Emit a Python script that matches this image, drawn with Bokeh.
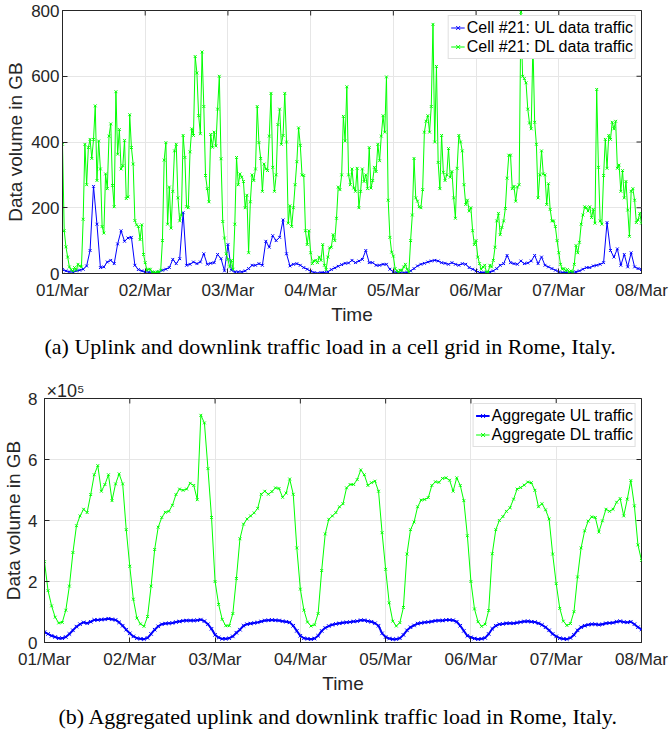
import numpy as np
from bokeh.plotting import figure
from bokeh.models import Range1d, FixedTicker, Legend, LegendItem, Title
from bokeh.layouts import column, row
from bokeh.embed import file_html
from bokeh.resources import INLINE

# ---------------- data ----------------
tick_labels = ["01/Mar", "02/Mar", "03/Mar", "04/Mar", "05/Mar", "06/Mar", "07/Mar", "08/Mar"]

# Cell #21 uplink, hourly (GB)
cell_ul = [
    12, 8, 5, 5, 8, 10, 13, 23, 70, 265, 150, 18, 20, 35, 40, 30, 90, 130, 98, 108, 110, 25, 12, 8,
    5, 4, 3, 3, 5, 10, 13, 18, 43, 30, 45, 185, 25, 28, 35, 30, 35, 60, 28, 31, 33, 58, 45, 8,
    88, 10, 5, 5, 5, 8, 15, 25, 25, 30, 25, 98, 80, 115, 100, 110, 163, 60, 23, 28, 30, 25, 18, 13,
    7, 3, 1, 3, 3, 5, 12, 17, 22, 27, 31, 32, 40, 33, 38, 43, 70, 33, 33, 25, 25, 28, 28, 13,
    5, 3, 2, 2, 3, 8, 15, 23, 28, 31, 35, 38, 40, 38, 33, 31, 28, 33, 28, 25, 30, 28, 18, 13,
    8, 3, 3, 3, 5, 8, 15, 25, 30, 55, 33, 30, 28, 38, 30, 32, 38, 55, 30, 50, 25, 20, 15, 10,
    5, 3, 3, 3, 3, 5, 8, 13, 18, 18, 23, 25, 28, 33, 155, 70, 50, 75, 25, 58, 20, 63, 20, 15, 12,
]

# Cell #21 downlink, half-hourly (GB)
cell_dl = [
    393, 130, 81, 50, 20, 12, 8, 18, 11, 28, 23, 20, 165, 393, 270, 383, 408, 350, 408, 510, 283, 403, 318, 143,
    123, 303, 258, 418, 455, 268, 203, 553, 363, 438, 318, 328, 405, 228, 233, 483, 383, 333, 161, 148, 143, 103, 148, 58,
    33, 10, 13, 13, 5, 3, 3, 5, 5, 10, 100, 345, 398, 150, 263, 138, 250, 373, 393, 230, 160, 178, 420, 353,
    203, 200, 370, 440, 420, 660, 610, 480, 425, 674, 508, 298, 258, 218, 423, 384, 430, 388, 500, 600, 349, 158, 108, 60,
    43, 20, 40, 13, 150, 353, 270, 303, 293, 280, 200, 238, 63, 218, 300, 283, 318, 508, 398, 350, 250, 333, 318, 313,
    418, 548, 323, 250, 300, 453, 500, 393, 420, 548, 400, 153, 206, 143, 200, 270, 340, 443, 390, 300, 298, 130, 88, 130,
    63, 30, 38, 40, 33, 50, 40, 88, 25, 12, 50, 78, 80, 118, 100, 168, 263, 255, 300, 478, 403, 568, 300, 270,
    318, 260, 250, 320, 200, 250, 318, 280, 300, 258, 383, 260, 283, 323, 310, 393, 343, 418, 480, 430, 598, 223, 110, 65,
    53, 15, 8, 5, 10, 10, 20, 28, 13, 3, 100, 178, 350, 230, 220, 203, 200, 255, 430, 463, 480, 430, 508, 758,
    400, 630, 338, 258, 420, 308, 283, 300, 380, 293, 310, 230, 168, 320, 420, 400, 373, 270, 210, 223, 190, 200, 130, 88,
    100, 50, 30, 13, 20, 25, 5, 3, 25, 20, 40, 80, 160, 183, 118, 140, 160, 198, 290, 360, 360, 258, 265, 220,
    263, 270, 795, 600, 593, 580, 500, 458, 440, 700, 460, 393, 230, 300, 373, 303, 300, 210, 273, 195, 160, 160, 143, 100,
    63, 28, 13, 15, 8, 12, 5, 8, 5, 28, 85, 63, 95, 150, 178, 203, 200, 190, 203, 170, 195, 153, 560, 323,
    160, 150, 298, 408, 320, 420, 408, 460, 440, 463, 320, 330, 250, 313, 230, 280, 193, 113, 250, 258, 223, 155, 163, 183,
    153,
]

# Aggregate uplink, hourly (x 1e5 GB)
agg_ul = [
    0.34, 0.28, 0.22, 0.18, 0.14, 0.14, 0.18, 0.28, 0.40, 0.52, 0.60, 0.66, 0.63, 0.68, 0.74, 0.74, 0.75, 0.76, 0.78, 0.76, 0.74, 0.66, 0.55, 0.42,
    0.30, 0.20, 0.14, 0.12, 0.11, 0.15, 0.28, 0.42, 0.53, 0.60, 0.62, 0.63, 0.64, 0.67, 0.69, 0.71, 0.72, 0.72, 0.72, 0.73, 0.75, 0.70, 0.60, 0.45,
    0.25, 0.16, 0.12, 0.12, 0.14, 0.20, 0.32, 0.42, 0.55, 0.60, 0.62, 0.64, 0.66, 0.69, 0.72, 0.73, 0.74, 0.73, 0.72, 0.70, 0.68, 0.66, 0.55, 0.38,
    0.22, 0.14, 0.12, 0.11, 0.13, 0.22, 0.38, 0.48, 0.54, 0.58, 0.61, 0.63, 0.65, 0.66, 0.67, 0.69, 0.70, 0.73, 0.73, 0.70, 0.68, 0.63, 0.55, 0.30,
    0.18, 0.13, 0.11, 0.11, 0.14, 0.25, 0.40, 0.50, 0.56, 0.62, 0.64, 0.66, 0.67, 0.69, 0.71, 0.72, 0.72, 0.74, 0.74, 0.73, 0.68, 0.55, 0.38, 0.22,
    0.17, 0.13, 0.11, 0.12, 0.15, 0.28, 0.45, 0.55, 0.60, 0.61, 0.63, 0.63, 0.63, 0.65, 0.67, 0.69, 0.70, 0.68, 0.67, 0.63, 0.58, 0.50, 0.40, 0.28,
    0.20, 0.14, 0.12, 0.11, 0.15, 0.25, 0.40, 0.50, 0.55, 0.58, 0.60, 0.60, 0.58, 0.60, 0.63, 0.64, 0.65, 0.68, 0.70, 0.67, 0.66, 0.68, 0.60, 0.50, 0.43,
]

# Aggregate downlink, hourly (x 1e5 GB)
agg_dl = [
    2.65, 1.70, 1.20, 0.83, 0.64, 0.66, 1.06, 1.85, 2.95, 3.83, 4.15, 4.37, 4.26, 4.85, 5.50, 5.80, 4.96, 5.18, 5.50, 4.65, 5.20, 5.53, 5.20, 3.70,
    2.50, 1.42, 0.80, 0.61, 0.53, 0.85, 1.85, 3.05, 3.78, 4.10, 4.27, 4.30, 4.50, 4.85, 5.03, 4.99, 5.03, 5.22, 5.15, 4.68, 7.45, 7.20, 5.70, 4.10,
    2.00, 1.25, 0.76, 0.55, 0.55, 0.95, 2.10, 3.40, 3.88, 4.05, 4.15, 4.25, 4.40, 4.86, 4.96, 4.86, 4.95, 5.07, 5.05, 4.76, 4.90, 5.36, 4.86, 3.10,
    1.75, 1.06, 0.67, 0.54, 0.58, 0.95, 2.36, 3.56, 4.04, 4.15, 4.26, 4.45, 4.55, 5.07, 5.18, 5.18, 5.34, 5.66, 5.50, 5.15, 5.24, 5.29, 4.96, 3.60,
    2.40, 1.30, 0.70, 0.54, 0.65, 1.15, 2.90, 3.70, 3.95, 4.45, 4.67, 4.69, 4.75, 5.15, 5.27, 5.25, 5.38, 5.40, 5.32, 4.96, 5.40, 5.15, 4.65, 3.50,
    2.00, 1.10, 0.68, 0.53, 0.60, 1.05, 2.91, 3.70, 4.00, 4.13, 4.30, 4.42, 4.70, 5.03, 5.08, 5.16, 5.26, 5.24, 4.99, 4.45, 4.55, 4.35, 4.05, 2.90,
    1.93, 1.12, 0.70, 0.56, 0.62, 1.01, 2.15, 3.10, 3.66, 3.98, 4.12, 4.10, 3.62, 3.99, 4.37, 4.30, 4.37, 4.60, 4.72, 4.15, 4.70, 5.31, 4.48, 3.20, 2.69,
]

cell_ticks = [0, 200, 400, 600, 800]
agg_ticks = [0, 2, 4, 6, 8]

hours = np.arange(len(cell_ul))
half_hours = np.arange(len(cell_dl)) * 0.5
day_ticks = [24 * i for i in range(len(tick_labels))]
x_end = day_ticks[-1]

BLUE = "#0000ff"
GREEN = "#00ff00"
INK = "#262626"
SANS = "Liberation Sans"
SERIF = "Liberation Serif"


def make_fig(height, ymax, yticks, top, bottom, left, ylab_standoff, ytick_standoff):
    p = figure(width=669, height=height, x_range=Range1d(0, x_end), y_range=Range1d(0, ymax),
               output_backend="svg", toolbar_location=None,
               min_border_top=top, min_border_bottom=bottom, min_border_left=left,
               min_border_right=28, background_fill_color="white",
               border_fill_color="white")
    p.outline_line_color = INK
    p.outline_line_width = 1
    xa = p.xaxis[0]
    ya = p.yaxis[0]
    xa.ticker = FixedTicker(ticks=day_ticks)
    xa.major_label_overrides = {t: lab for t, lab in zip(day_ticks, tick_labels)}
    ya.ticker = FixedTicker(ticks=yticks)
    for ax in (xa, ya):
        ax.axis_line_color = INK
        ax.major_tick_line_color = INK
        ax.major_tick_in = 5
        ax.major_tick_out = 0
        ax.minor_tick_line_color = None
        ax.major_label_text_font = SANS
        ax.major_label_text_font_size = "17px"
        ax.major_label_text_color = INK
        ax.axis_label_text_font = SANS
        ax.axis_label_text_font_size = "19px"
        ax.axis_label_text_font_style = "normal"
        ax.axis_label_text_color = INK
    xa.axis_label = "Time"
    xa.major_label_standoff = 7
    xa.axis_label_standoff = 1
    ya.axis_label = "Data volume in GB"
    ya.major_label_standoff = ytick_standoff
    ya.axis_label_standoff = ylab_standoff
    # inward ticks on the top and right edges of the box (clipped to the frame)
    p.scatter(day_ticks, [ymax] * len(day_ticks), marker="dash", angle=np.pi / 2, size=10,
              line_color=INK, line_width=1)
    p.scatter([x_end] * len(yticks), yticks, marker="dash", size=10,
              line_color=INK, line_width=1)
    p.xgrid.ticker = FixedTicker(ticks=day_ticks)
    p.ygrid.ticker = FixedTicker(ticks=yticks)
    p.xgrid.grid_line_color = "#e6e6e6"
    p.ygrid.grid_line_color = "#e6e6e6"
    return p


def add_series(p, x, y, color, lw=1, size=4):
    ln = p.line(x, y, line_color=color, line_width=lw)
    sc = p.scatter(x, y, marker="x", size=size, line_color=color, line_width=1)
    return [ln, sc]


def add_legend(p, items):
    lg = Legend(items=[LegendItem(label=lab, renderers=r) for lab, r in items],
                location="top_right", margin=5, padding=2, spacing=0,
                glyph_width=14, glyph_height=19, label_height=19, label_standoff=2,
                label_text_font=SANS, label_text_font_size="16px",
                label_text_color="black", border_line_color="#c0c0c0",
                background_fill_color="white", background_fill_alpha=1.0)
    p.add_layout(lg)


def add_caption(p, text, offset, standoff):
    t = Title(text=text, align="left", text_font=SERIF, text_font_size="22px",
              text_font_style="normal", text_color="black", standoff=standoff, offset=offset)
    p.add_layout(t, "below")


# ---------------- figure (a) ----------------
p1 = make_fig(366, 800, cell_ticks, top=10, bottom=93, left=62, ylab_standoff=2, ytick_standoff=3)
r_ul = add_series(p1, hours, cell_ul, BLUE)
r_dl = add_series(p1, half_hours, cell_dl, GREEN)
add_legend(p1, [("Cell #21: UL data traffic", r_ul), ("Cell #21: DL data traffic", r_dl)])
add_caption(p1, "(a) Uplink and downlink traffic load in a cell grid in Rome, Italy.", -18, 9)

# ---------------- figure (b) ----------------
p2 = make_fig(368, 8, agg_ticks, top=32, bottom=89, left=42, ylab_standoff=1, ytick_standoff=7)
r_aul = add_series(p2, hours, agg_ul, BLUE, lw=2, size=5)
r_adl = add_series(p2, hours, agg_dl, GREEN)
add_legend(p2, [("Aggregate UL traffic", r_aul), ("Aggregate DL traffic", r_adl)])
add_caption(p2, "(b) Aggregated uplink and downlink traffic load in Rome, Italy.", 14, 11)
p2.add_layout(Title(text="\u00d710\u2075", align="left", text_font=SANS, text_font_size="18px",
                    text_font_style="normal", text_color=INK, standoff=-5, offset=2), "above")

layout = column(row(p1), row(p2), spacing=0)

with open("out.html", "w") as f:
    f.write(file_html(layout, INLINE))
